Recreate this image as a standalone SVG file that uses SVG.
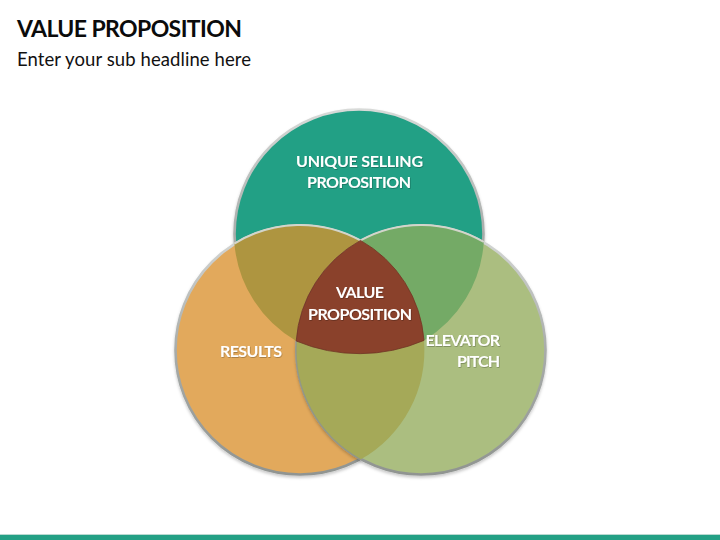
<svg xmlns="http://www.w3.org/2000/svg" width="720" height="540" viewBox="0 0 720 540">
<style>
text{font-family:Lato,"Open Sans","Liberation Sans",sans-serif}
.t{font-size:16px;font-weight:700;fill:#fff;filter:url(#ts)}
.rim{stroke-width:2.6;stroke:url(#rim);filter:url(#sh)}
.edge{fill:none;stroke:#8f948c;stroke-width:1.6;stroke-opacity:.8}
.top{fill:none;stroke:#d3d5cb;stroke-width:2}
</style>
<defs>
<linearGradient id="rim" x1="0" y1="0" x2="0" y2="1"><stop offset="0" stop-color="#d8dad8"/><stop offset=".5" stop-color="#a8acaa"/><stop offset="1" stop-color="#909491"/></linearGradient>
<filter id="sh" x="-10%" y="-10%" width="120%" height="120%"><feDropShadow dx="0" dy="2" stdDeviation="1.5" flood-color="#000" flood-opacity=".22"/></filter>
<filter id="ts" x="-10%" y="-20%" width="120%" height="150%"><feDropShadow dx=".6" dy=".8" stdDeviation=".5" flood-color="#000" flood-opacity=".3"/></filter>
</defs>
<text x="17" y="37" font-size="23" font-weight="700" fill="#0b0b0b" textLength="225" lengthAdjust="spacing">VALUE PROPOSITION</text>
<text x="17" y="66" font-size="18.5" fill="#111" textLength="234" lengthAdjust="spacing">Enter your sub headline here</text>
<rect x="0" y="534" width="720" height="1" fill="#b9d9d1"/>
<rect x="0" y="535" width="720" height="5" fill="#23a085"/>
<g id="node-usp"><circle class="rim" cx="359" cy="234" r="124.5" fill="#23a085"/></g>
<g id="node-results"><circle class="rim" cx="300" cy="350" r="124.5" fill="#e2a95b"/></g>
<g id="node-pitch"><circle class="rim" cx="421" cy="350" r="124.5" fill="#abbe80"/></g>
<g id="overlap-usp-results"><path fill="#ae9540" d="M234.4 243.6A125 125 0 0 1 360.5 240.4A125 125 0 0 0 296.2 341A125 125 0 0 1 234.4 243.6Z"/>
<path class="top" d="M234.4 243.6A125 125 0 0 1 360.5 240.4"/></g>
<g id="overlap-usp-pitch"><path fill="#74aa66" d="M360.5 240.4A125 125 0 0 1 483.8 242A125 125 0 0 1 424 340.4A125 125 0 0 0 360.5 240.4Z"/>
<path class="top" d="M360.5 240.4A125 125 0 0 1 483.8 242"/></g>
<g id="overlap-results-pitch"><path fill="#a5a958" d="M296.2 341A164 164 0 0 0 424 340.4A125 125 0 0 1 360.5 459.6A125 125 0 0 1 296.2 341Z"/>
<path class="edge" d="M360.5 459.6A125 125 0 0 1 296.2 341"/></g>
<g id="node-center"><path fill="#8a412b" stroke="#6f3522" stroke-width=".8" d="M360.5 240.4A125 125 0 0 1 424 340.4A164 164 0 0 1 296.2 341A125 125 0 0 1 360.5 240.4Z"/></g>
<g id="labels">
<text class="t" x="296" y="166.5" textLength="127" lengthAdjust="spacing">UNIQUE SELLING</text>
<text class="t" x="307" y="188" textLength="104" lengthAdjust="spacing">PROPOSITION</text>
<text class="t" x="336" y="298" textLength="48" lengthAdjust="spacing">VALUE</text>
<text class="t" x="308" y="319.5" textLength="104" lengthAdjust="spacing">PROPOSITION</text>
<text class="t" x="220" y="356.5" textLength="62" lengthAdjust="spacing">RESULTS</text>
<text class="t" x="425.5" y="345.5" textLength="74.5" lengthAdjust="spacing">ELEVATOR</text>
<text class="t" x="457" y="367" textLength="43" lengthAdjust="spacing">PITCH</text>
</g>
</svg>
